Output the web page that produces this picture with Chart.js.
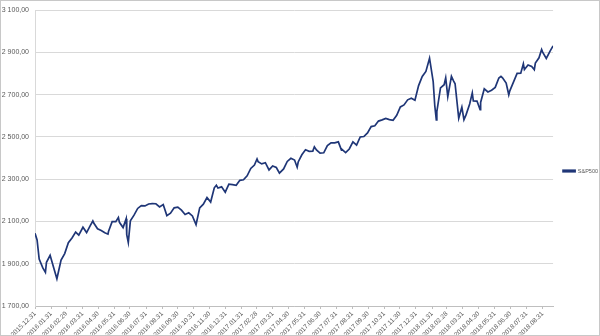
<!DOCTYPE html>
<html lang="en">
<head>
<meta charset="UTF-8">
<title>S&amp;P500</title>
<script src="https://cdn.jsdelivr.net/npm/chart.js"></script>
<style>
  body { margin: 0; background: #fff; }
  #wrap { width: 600px; height: 336px; }
  canvas { display: block; outline: 1px solid #c8c8c8; outline-offset: -1px; }
</style>
</head>
<body>
<div id="wrap"><canvas id="chart" width="600" height="336"></canvas></div>
<script>
// closing values (roughly weekly, plus the turning points)
const dates = [
  '2015-12-31','2016-01-04','2016-01-08','2016-01-15','2016-01-20','2016-01-22','2016-01-29','2016-02-05','2016-02-11','2016-02-19','2016-02-26',
  '2016-03-04','2016-03-11','2016-03-18','2016-03-24','2016-04-01','2016-04-08','2016-04-15','2016-04-20','2016-04-22','2016-04-29',
  '2016-05-06','2016-05-13','2016-05-19','2016-05-20','2016-05-27','2016-06-03','2016-06-08','2016-06-10','2016-06-17','2016-06-23',
  '2016-06-24','2016-06-27','2016-07-01','2016-07-08','2016-07-15','2016-07-22','2016-07-29','2016-08-05','2016-08-12','2016-08-19',
  '2016-08-26','2016-09-02','2016-09-09','2016-09-16','2016-09-23','2016-09-30','2016-10-07','2016-10-14','2016-10-21','2016-10-28',
  '2016-11-04','2016-11-11','2016-11-18','2016-11-25','2016-12-02','2016-12-09','2016-12-13','2016-12-16','2016-12-23','2016-12-30',
  '2017-01-06','2017-01-13','2017-01-20','2017-01-27','2017-02-03','2017-02-10','2017-02-17','2017-02-24','2017-03-01','2017-03-03',
  '2017-03-10','2017-03-17','2017-03-24','2017-03-31','2017-04-07','2017-04-13','2017-04-21','2017-04-28','2017-05-05','2017-05-12',
  '2017-05-17','2017-05-19','2017-05-26','2017-06-02','2017-06-09','2017-06-16','2017-06-19','2017-06-23','2017-06-30','2017-07-07',
  '2017-07-14','2017-07-21','2017-07-28','2017-08-04','2017-08-10','2017-08-11','2017-08-18','2017-08-25','2017-09-01','2017-09-08',
  '2017-09-15','2017-09-22','2017-09-29','2017-10-06','2017-10-13','2017-10-20','2017-10-27','2017-11-03','2017-11-10','2017-11-17',
  '2017-11-24','2017-12-01','2017-12-08','2017-12-15','2017-12-22','2017-12-29','2018-01-05','2018-01-12','2018-01-19','2018-01-26',
  '2018-02-02','2018-02-05','2018-02-08','2018-02-09','2018-02-16','2018-02-23','2018-02-26','2018-03-02','2018-03-09','2018-03-13',
  '2018-03-16','2018-03-23','2018-03-29','2018-04-02','2018-04-06','2018-04-13','2018-04-18','2018-04-20','2018-04-27','2018-05-03',
  '2018-05-04','2018-05-11','2018-05-18','2018-05-25','2018-06-01','2018-06-08','2018-06-12','2018-06-15','2018-06-22','2018-06-27',
  '2018-06-29','2018-07-06','2018-07-13','2018-07-20','2018-07-25','2018-07-27','2018-08-03','2018-08-10','2018-08-15','2018-08-17',
  '2018-08-24','2018-08-29','2018-08-31','2018-09-07','2018-09-14','2018-09-20'
];
const sp500 = [
  2043.9,2012.7,1922.0,1880.3,1859.3,1906.9,1940.2,1880.1,1829.1,1917.8,1948.1,
  2000.0,2022.2,2049.6,2035.9,2072.8,2047.6,2080.7,2102.4,2091.6,2065.3,
  2057.1,2046.6,2040.0,2052.3,2099.1,2099.1,2119.1,2096.1,2071.2,2113.3,
  2037.4,2000.5,2103.0,2129.9,2161.7,2175.0,2173.6,2182.9,2184.1,2183.9,
  2169.0,2180.0,2127.8,2139.2,2164.7,2168.3,2153.7,2133.0,2141.2,2126.4,
  2085.2,2164.5,2182.0,2213.4,2192.0,2259.5,2271.7,2258.1,2263.8,2238.8,
  2277.0,2274.6,2271.3,2294.7,2297.4,2316.1,2351.2,2367.3,2396.0,2383.1,
  2372.6,2378.3,2344.0,2362.7,2355.5,2329.0,2348.7,2384.2,2399.3,2390.9,
  2357.0,2381.7,2415.8,2439.1,2431.8,2433.2,2453.5,2438.3,2423.4,2425.2,
  2459.3,2472.5,2472.1,2476.8,2438.2,2441.3,2425.6,2443.1,2476.6,2461.4,
  2500.2,2502.2,2519.4,2549.3,2553.2,2575.2,2581.1,2587.8,2582.3,2578.9,
  2602.4,2642.2,2651.5,2675.8,2683.3,2673.6,2743.2,2786.2,2810.3,2872.9,
  2762.1,2648.9,2581.0,2619.6,2732.2,2747.3,2779.6,2691.3,2786.6,2765.3,
  2752.0,2588.3,2640.9,2581.9,2604.5,2656.3,2708.6,2670.1,2669.9,2629.7,
  2663.4,2727.7,2713.0,2721.3,2734.6,2779.0,2786.9,2779.7,2754.9,2699.6,
  2718.4,2759.8,2801.3,2801.8,2846.1,2818.8,2840.4,2833.3,2818.4,2850.1,
  2874.7,2914.0,2901.5,2871.7,2905.0,2930.8
];
const monthTicks = [
  '2015.12.31','2016.01.31','2016.02.29','2016.03.31','2016.04.30','2016.05.31','2016.06.30','2016.07.31','2016.08.31',
  '2016.09.30','2016.10.31','2016.11.30','2016.12.31','2017.01.31','2017.02.28','2017.03.31','2017.04.30','2017.05.31',
  '2017.06.30','2017.07.31','2017.08.31','2017.09.30','2017.10.31','2017.11.30','2017.12.31','2018.01.31','2018.02.28',
  '2018.03.31','2018.04.30','2018.05.31','2018.06.30','2018.07.31','2018.08.31'
];
const yTicks = [1700, 1900, 2100, 2300, 2500, 2700, 2900, 3100];

const DAY = 86400000;
const start = Date.UTC(2015, 11, 31);
function dayNum(s) {
  const p = s.split(/[-.]/).map(Number);
  return (Date.UTC(p[0], p[1] - 1, p[2]) - start) / DAY;
}
function fmt(v) {
  const parts = v.toFixed(2).split('.');
  return parts[0].replace(/\B(?=(\d{3})+(?!\d))/g, ' ') + ',' + parts[1];
}

const lineColor = '#1f3677';
const textColor = '#595959';
const gridColor = '#d9d9d9';

new Chart(document.getElementById('chart'), {
  type: 'line',
  data: {
    datasets: [{
      label: 'S&P500',
      data: dates.map((d, i) => ({ x: dayNum(d), y: sp500[i] })),
      borderColor: lineColor,
      backgroundColor: lineColor,
      borderWidth: 1.7,
      pointRadius: 0,
      tension: 0
    }]
  },
  options: {
    responsive: false,
    animation: false,
    // legend sits in the narrow right margin, like the original
    layout: { padding: { top: 6, left: 0, right: -8, bottom: 0 } },
    plugins: {
      tooltip: { enabled: false },
      legend: {
        position: 'right',
        labels: {
          boxWidth: 12,
          boxHeight: 1.5,
          padding: 10,
          color: textColor,
          font: { family: 'Liberation Sans, Arial, sans-serif', size: 5.5 }
        }
      }
    },
    scales: {
      x: {
        type: 'linear',
        min: 0,
        max: dayNum(dates[dates.length - 1]),
        afterBuildTicks: scale => { scale.ticks = monthTicks.map(t => ({ value: dayNum(t) })); },
        afterFit: scale => { scale.height = 30; },
        ticks: {
          autoSkip: false,
          maxRotation: 45,
          minRotation: 45,
          padding: 1,
          color: textColor,
          font: { family: 'Liberation Sans, Arial, sans-serif', size: 6.5 },
          callback: (v, i) => monthTicks[i]
        },
        grid: { drawOnChartArea: false, drawTicks: true, tickLength: 3, color: '#bfbfbf' },
        border: { color: '#bfbfbf' }
      },
      y: {
        min: yTicks[0],
        max: yTicks[yTicks.length - 1],
        afterBuildTicks: scale => { scale.ticks = yTicks.map(v => ({ value: v })); },
        afterFit: scale => { scale.width = 35; },
        ticks: {
          padding: 6,
          color: textColor,
          font: { family: 'Liberation Sans, Arial, sans-serif', size: 7 },
          callback: v => fmt(v)
        },
        grid: { color: gridColor, drawTicks: false },
        border: { color: gridColor }
      }
    }
  }
});
</script>
</body>
</html>
